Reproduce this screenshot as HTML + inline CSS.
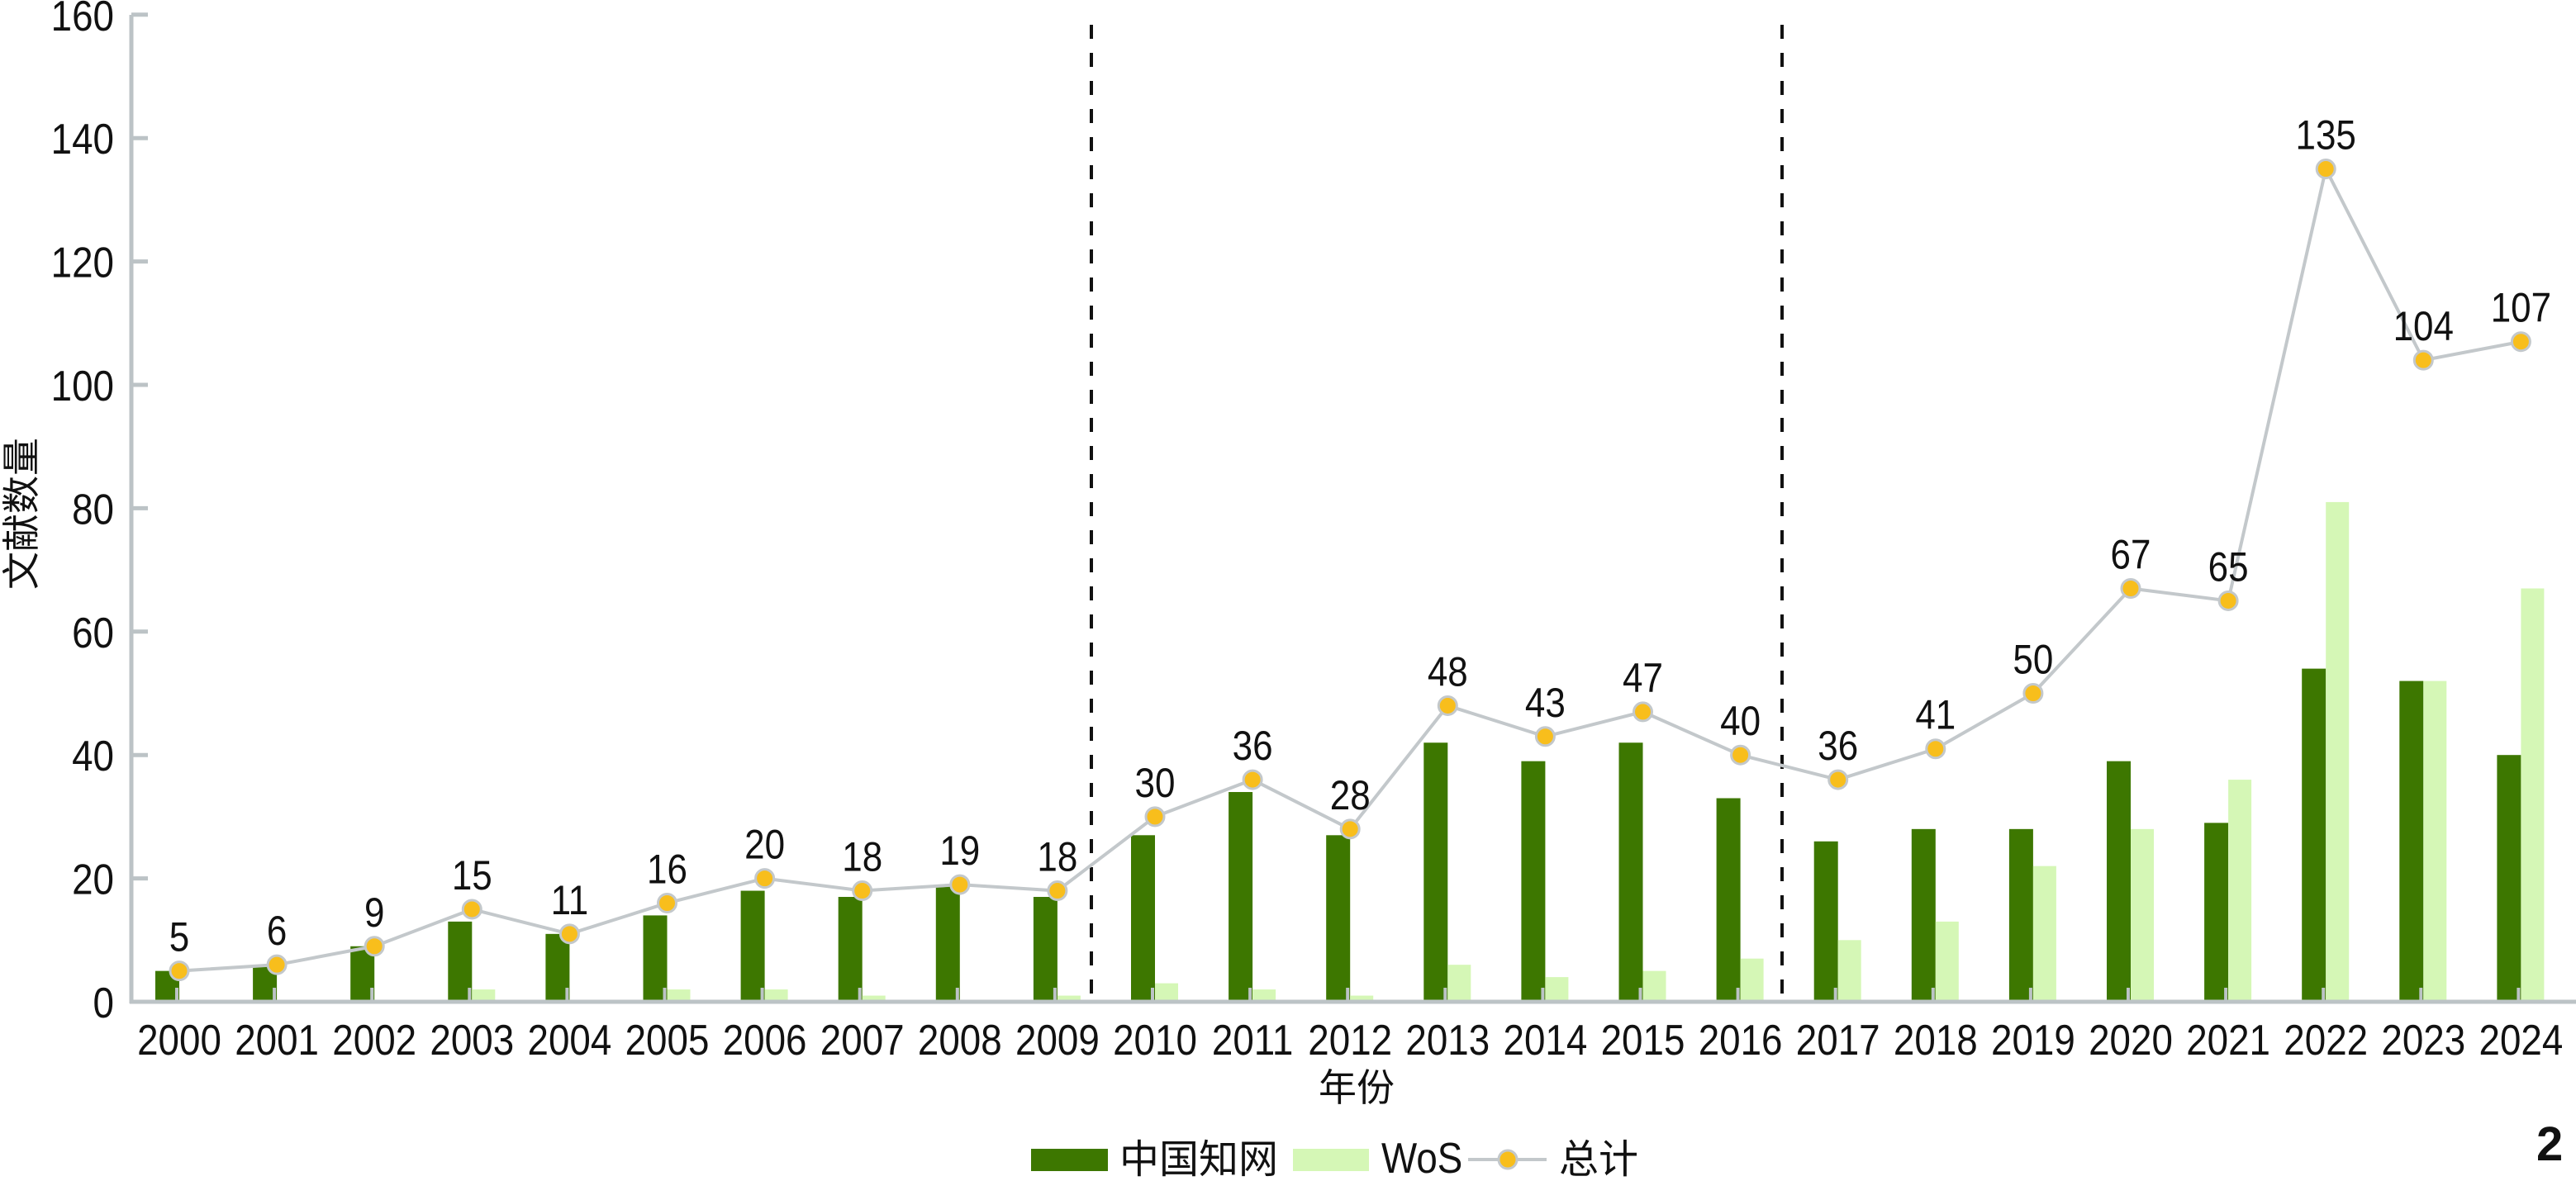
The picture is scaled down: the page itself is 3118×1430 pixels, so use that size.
<!DOCTYPE html>
<html><head><meta charset="utf-8"><style>
html,body{margin:0;padding:0;background:#fff;}
svg{display:block;}
text{font-family:"Liberation Sans","Noto Sans CJK SC",sans-serif;fill:#111;}
</style></head><body>
<svg width="3118" height="1430" viewBox="0 0 3118 1430" xmlns="http://www.w3.org/2000/svg">
<g id="bars"></g>
</svg>
<script>
const cn=[5,6,9,13,11,14,18,17,19,17,27,34,27,42,39,42,33,26,28,28,39,29,54,52,40];
const wos=[0,0,0,2,0,2,2,1,0,1,3,2,1,6,4,5,7,10,13,22,28,36,81,52,67];
const tot=[5,6,9,15,11,16,20,18,19,18,30,36,28,48,43,47,40,36,41,50,67,65,135,104,107];
const X=i=>217+118.1*i, Y=v=>1213-v*7.47;
const T=(x,y,fs,txt,anchor,sx)=>`<g transform="translate(${x},${y}) scale(${sx||0.88},1)"><text x="0" y="0" font-size="${fs}" text-anchor="${anchor||'middle'}">${txt}</text></g>`;
let s='';
for(let i=0;i<25;i++){
  const x=X(i);
  if(cn[i]) s+=`<rect x="${x-29}" y="${Y(cn[i])}" width="29" height="${cn[i]*7.47}" fill="#3d7700"/>`;
  if(wos[i]) s+=`<rect x="${x}" y="${Y(wos[i])}" width="28" height="${wos[i]*7.47}" fill="#d5f7b6"/>`;
  s+=`<line x1="${x-3}" y1="1196" x2="${x-3}" y2="1213" stroke="#bcc3c6" stroke-width="4"/>`;
}
s+=`<line x1="159" y1="18" x2="159" y2="1215" stroke="#bcc3c6" stroke-width="5"/>`;
s+=`<line x1="157" y1="1213" x2="3118" y2="1213" stroke="#bcc3c6" stroke-width="5"/>`;
for(let v=0;v<=160;v+=20){
  const y=Y(v);
  if(v>0) s+=`<line x1="159" y1="${y}" x2="179" y2="${y}" stroke="#bcc3c6" stroke-width="5"/>`;
  s+=T(138,y+19,52,v,'end');
}
s+=`<line x1="1321" y1="30" x2="1321" y2="1213" stroke="#111" stroke-width="4" stroke-dasharray="17,17"/>`;
s+=`<line x1="2157" y1="30" x2="2157" y2="1213" stroke="#111" stroke-width="4" stroke-dasharray="17,17"/>`;
let pts=tot.map((v,i)=>X(i)+','+Y(v)).join(' ');
s+=`<polyline points="${pts}" fill="none" stroke="#c3c8cb" stroke-width="4"/>`;
for(let i=0;i<25;i++){
  s+=`<circle cx="${X(i)}" cy="${Y(tot[i])}" r="11" fill="#f8be1c" stroke="#c3c8cb" stroke-width="3"/>`;
  s+=T(X(i),Y(tot[i])-24,50,tot[i]);
  s+=T(X(i),1277,52,2000+i);
}
s+=`<text x="1642" y="1333" font-size="46" text-anchor="middle">年份</text>`;
s+=`<text transform="translate(42,622) rotate(-90)" font-size="46" text-anchor="middle">文献数量</text>`;
s+=`<rect x="1248" y="1391" width="93" height="27" fill="#3d7700"/>`;
s+=`<text x="1355" y="1420" font-size="48">中国知网</text>`;
s+=`<rect x="1565" y="1391" width="92" height="27" fill="#d5f7b6"/>`;
s+=T(1672,1420,52,'WoS','start');
s+=`<line x1="1777" y1="1404" x2="1872" y2="1404" stroke="#c3c8cb" stroke-width="4"/>`;
s+=`<circle cx="1825" cy="1404" r="11" fill="#f8be1c" stroke="#c3c8cb" stroke-width="3"/>`;
s+=`<text x="1887" y="1420" font-size="48">总计</text>`;
s+=`<text x="3070" y="1405" font-size="58" font-weight="bold">2</text>`;
document.getElementById('bars').outerHTML=s;
</script>
</body></html>
